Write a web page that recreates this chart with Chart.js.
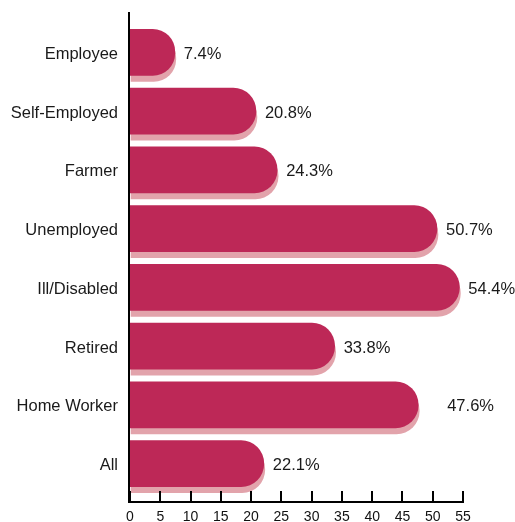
<!DOCTYPE html>
<html>
<head>
<meta charset="utf-8">
<script src="https://cdn.jsdelivr.net/npm/chart.js@4"></script>
<style>
  html, body { margin: 0; padding: 0; background: #fff; }
  #wrap { width: 515px; height: 522px; }
</style>
</head>
<body>
<div id="wrap"><canvas id="myChart" width="515" height="522"></canvas></div>
<script>
const categories = ['Employee', 'Self-Employed', 'Farmer', 'Unemployed', 'Ill/Disabled', 'Retired', 'Home Worker', 'All'];
const shares = [7.4, 20.8, 24.3, 50.7, 54.4, 33.8, 47.6, 22.1];
const x_ticks = [0, 5, 10, 15, 20, 25, 30, 35, 40, 45, 50, 55];

const bar_color = '#bd2857';
const shadow_color = '#e2a3ab';
const font_family = '"Liberation Sans", Arial, sans-serif';

// pale copy of every bar, pushed a few pixels down
const barShadow = {
	id: 'barShadow',
	beforeDatasetsDraw(chart) {
		const c = chart.ctx;
		c.save();
		c.shadowColor = shadow_color;
		c.shadowBlur = 0;
		c.shadowOffsetX = 1;
		c.shadowOffsetY = 6;
	},
	afterDatasetsDraw(chart) {
		chart.ctx.restore();
	}
};

// axis lines and the inward tick marks
const axes = {
	id: 'axes',
	afterDraw(chart) {
		const c = chart.ctx;
		const xs = chart.scales.x;
		const x0 = xs.getPixelForValue(0);
		const x1 = xs.getPixelForValue(55);
		const axisY = 501;
		c.save();
		c.fillStyle = '#000';
		c.fillRect(x0 - 2, 12, 2, axisY + 2 - 12);
		c.fillRect(x0 - 2, axisY, x1 - x0 + 3, 2);
		x_ticks.forEach(v => {
			const px = Math.round(xs.getPixelForValue(v));
			c.fillRect(px - 1, axisY - 10, 2, 11);
		});
		c.restore();
	}
};

// value labels at the end of each bar
const valueLabels = {
	id: 'valueLabels',
	afterDatasetsDraw(chart) {
		const c = chart.ctx;
		const meta = chart.getDatasetMeta(0);
		c.save();
		c.font = '16.5px ' + font_family;
		c.fillStyle = '#1a1a1a';
		c.textAlign = 'left';
		c.textBaseline = 'middle';
		meta.data.forEach((bar, i) => {
			const gap = categories[i] === 'Home Worker' ? 29 : 9;
			c.fillText(shares[i].toFixed(1) + '%', bar.x + gap, bar.y + 2);
		});
		c.restore();
	}
};

const ctx = document.getElementById('myChart').getContext('2d');
let myChart = new Chart(ctx, {
	type: 'bar',
	data: {
		labels: categories,
		datasets: [
			{
				data: shares,
				backgroundColor: bar_color,
				borderWidth: 0,
				borderRadius: 23,
				borderSkipped: 'start',
				barThickness: 46
			}
		]
	},
	options: {
		indexAxis: 'y',
		responsive: false,
		animation: false,
		devicePixelRatio: 1,
		layout: { padding: { top: 23, right: 52, bottom: 0, left: 0 } },
		plugins: {
			legend: { display: false },
			tooltip: { enabled: false }
		},
		scales: {
			x: {
				min: 0,
				max: 55,
				afterFit: s => { s.height = 29; },
				afterBuildTicks: s => { s.ticks = x_ticks.map(v => ({ value: v })); },
				grid: { display: false, drawTicks: false },
				border: { display: false },
				ticks: {
					padding: 16,
					color: '#111',
					font: { family: font_family, size: 14 }
				}
			},
			y: {
				afterFit: s => { s.width = 130; },
				grid: { display: false, drawTicks: false },
				border: { display: false },
				ticks: {
					padding: 12,
					labelOffset: 2,
					color: '#1a1a1a',
					font: { family: font_family, size: 16.5 }
				}
			}
		}
	},
	plugins: [barShadow, valueLabels, axes]
});
</script>
</body>
</html>
